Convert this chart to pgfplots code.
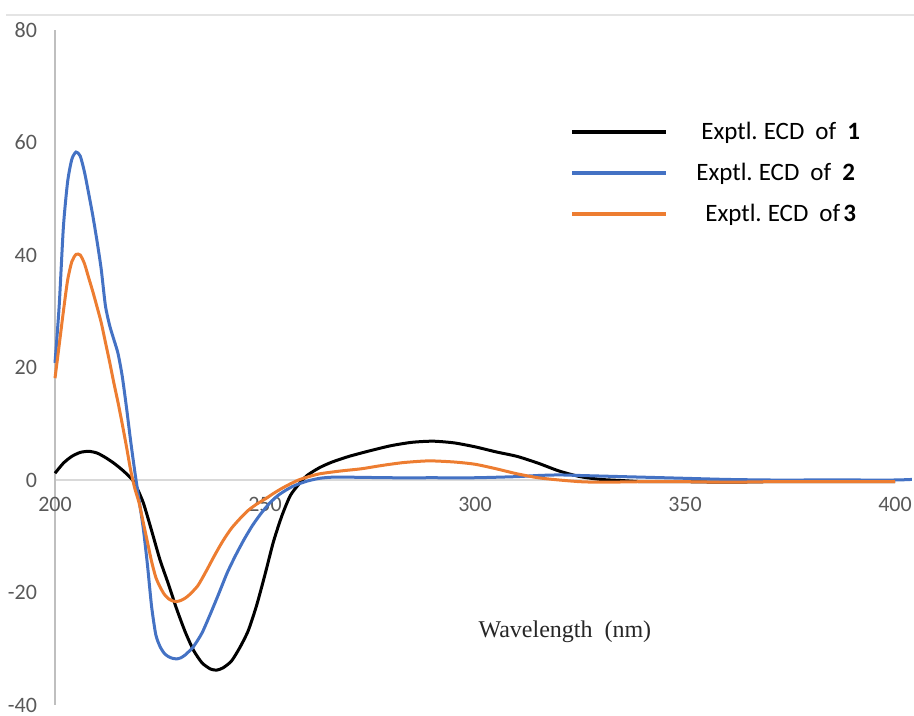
\documentclass[border=0pt]{standalone}
\usepackage{pgfplots}
\pgfplotsset{compat=1.18}
\usepackage{fontspec}
\setmainfont{Carlito}
\newfontfamily\seriffont{Liberation Serif}
\definecolor{xlblue}{HTML}{4472C4}
\definecolor{xlorange}{HTML}{ED7D31}
\definecolor{ticktxt}{HTML}{595959}
\definecolor{xline}{HTML}{D9D9D9}
\definecolor{yline}{HTML}{BFBFBF}
\begin{document}
\begin{tikzpicture}[x=1pt,y=1pt]
\useasboundingbox (0,0) rectangle (457,358);
\draw[xline!70, line width=1pt] (3,350.5) -- (457,350.5);
\begin{axis}[
  at={(27.5pt,5.5pt)}, anchor=south west,
  scale only axis, width=428.4pt, height=337.5pt,
  xmin=200, xmax=404, ymin=-40, ymax=80,
  axis x line=middle, axis y line=left,
  hide obscured x ticks=false, hide obscured y ticks=false,
  x axis line style={-, draw=xline, line width=0.9pt},
  y axis line style={-, draw=yline, line width=0.9pt},
  xtick={200,250,300,350,400}, ytick={-40,-20,0,20,40,60,80},
  major tick length=0pt,
  tick label style={font=\fontsize{11}{13}\selectfont, text=ticktxt},
  /pgf/number format/assume math mode=true,
  yticklabel style={anchor=east, xshift=-5.5pt},
  xticklabel style={anchor=north, yshift=-5pt},
  clip=false,
  legend style={at={(axis cs:322.6,64.4)}, anchor=north west, draw=none, fill=none,
    inner sep=0pt, font=\fontsize{12.5}{14.5}\selectfont, row sep=6.3pt,
    cells={anchor=west},
    /tikz/every odd column/.append style={column sep=12pt}},
  legend image code/.code={\draw[#1, line width=2pt] (0pt,0pt) -- (47pt,0pt);},
  every axis plot/.append style={line width=1.5pt, smooth, tension=0.4},
]
\addplot[black] coordinates {
(200,1.2)(202,3.0)(204,4.2)(206,4.9)(208,5.1)(210,4.8)(212,4.0)(214,3.0)(216,1.8)(218,0.4)
(219,-0.6)(221,-4.0)(223,-9)(225,-14.2)(227,-18.5)(229,-23)(231,-27)(233,-30.3)(235,-32.5)
(237,-33.6)(238.5,-33.8)(240,-33.4)(242,-32.2)(244,-29.8)(246,-26.8)(248,-22.3)(250,-16.8)
(252,-11)(254,-6.4)(256,-2.8)(258,-0.8)(260,0.8)(263,2.2)(266,3.2)(270,4.2)(275,5.2)(280,6.1)
(285,6.7)(290,6.9)(295,6.6)(300,5.9)(305,5.0)(310,4.2)(315,3.0)(320,1.6)(325,0.6)(330,0.1)
(335,-0.1)(340,-0.3)(350,-0.3)(360,-0.4)(370,-0.3)(380,-0.3)(390,-0.3)(400,-0.3)};
\addlegendentry{\hspace{2.5pt}Exptl.\hspace{3pt}ECD\hspace{5.5pt}of\hspace{5.5pt}\textbf{1}}
\addplot[xlblue] coordinates {
(200,20.8)(201,31)(202,45)(203,53)(204,57)(205,58.3)(206,57.6)(207,54.8)(208,51)(209,47)
(210,42.5)(211,37.5)(212,31)(213,27.5)(214,25)(215,22.5)(216,18.5)(217,13)(218,7)(219,1.5)
(220,-3.5)(221,-8.5)(222,-15)(223,-22.5)(224,-27.5)(225,-29.6)(226,-30.8)(227,-31.4)(228,-31.7)
(229,-31.8)(230,-31.6)(231,-31.1)(232,-30.4)(233,-29.6)(235,-27.2)(237,-23.8)(239,-20.2)
(241,-16.5)(243,-13.4)(245,-10.6)(247,-8.1)(249,-6)(251,-4.2)(253,-2.8)(255,-1.8)(257,-1.0)
(260,-0.2)(263,0.3)(266,0.5)(270,0.5)(280,0.4)(290,0.4)(300,0.4)(310,0.6)(315,0.8)(320,0.9)
(325,0.8)(330,0.7)(340,0.5)(350,0.3)(360,0.1)(370,0.0)(380,0.0)(390,0.0)(400,0.0)(404,0.1)};
\addlegendentry{Exptl.\hspace{3pt}ECD\hspace{5.5pt}of\hspace{5.5pt}\textbf{2}}
\addplot[xlorange] coordinates {
(200,18.1)(201,24)(202,30)(203,35.5)(204,38.8)(205,40.1)(206,40)(207,38.5)(208,36)(209,33.5)
(210,30.8)(211,28)(212,24.5)(213,21)(214,17.3)(215,13.8)(216,10)(217,6)(218,1.8)(219,-1.5)
(220,-4)(221,-7.5)(222,-11)(223,-14.5)(224,-17.3)(225,-19)(226,-20.3)(227,-21.1)(228,-21.5)
(229,-21.6)(230,-21.4)(231,-21)(232,-20.4)(234,-18.8)(236,-16.2)(238,-13.4)(240,-10.8)
(242,-8.6)(244,-6.9)(246,-5.4)(248,-4.3)(250,-3.4)(252,-2.4)(254,-1.5)(256,-0.7)(258,0.0)
(260,0.5)(263,1.1)(268,1.6)(273,2.0)(278,2.6)(283,3.1)(289,3.4)(295,3.2)(300,2.8)(305,2.0)
(310,1.1)(315,0.4)(320,0.0)(325,-0.3)(330,-0.4)(340,-0.3)(350,-0.3)(360,-0.4)(370,-0.3)
(380,-0.3)(390,-0.3)(400,-0.3)};
\addlegendentry{\hspace{4.5pt}Exptl.\hspace{3pt}ECD\hspace{5.5pt}of\hspace{1.5pt}\textbf{3}}
\node[font=\seriffont\fontsize{12}{14}\selectfont, text=black!85] at (axis cs:321.4,-27) {Wavelength~~(nm)};
\end{axis}
\end{tikzpicture}
\end{document}
